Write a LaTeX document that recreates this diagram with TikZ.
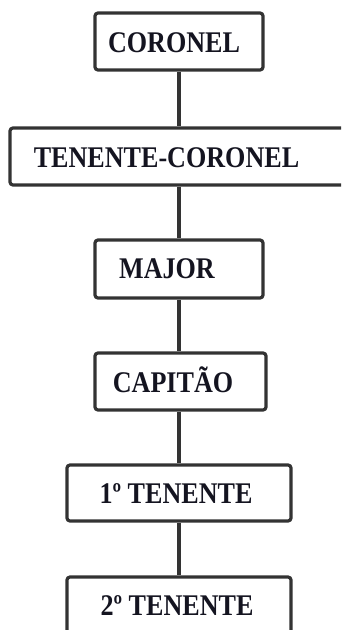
\documentclass[tikz,border=0pt]{standalone}
\usepackage{fontspec}
\setmainfont{Liberation Serif}
\definecolor{edge}{HTML}{333333}
\definecolor{ink}{HTML}{141420}
\begin{document}
\begin{tikzpicture}[x=1pt,y=-1pt,
  rank/.style={draw=edge,line width=3.2pt,rounded corners=3pt,fill=white,inner sep=0pt},
  lbl/.style={anchor=base,inner sep=0pt,text=ink,font=\fontsize{30}{30}\selectfont\bfseries},
  link/.style={draw=edge,line width=3.2pt}]
\useasboundingbox (0,0) rectangle (341,630);
\clip (0,0) rectangle (341,630);
\node[rank,minimum width=168pt,minimum height=57pt] (b1) at (179,41.5) {};
\node[rank,minimum width=340pt,minimum height=57pt] (b2) at (180,156.5) {};
\node[rank,minimum width=168pt,minimum height=58pt] (b3) at (179,269) {};
\node[rank,minimum width=171pt,minimum height=57pt] (b4) at (180.5,381.5) {};
\node[rank,minimum width=224pt,minimum height=56pt] (b5) at (179,493) {};
\node[rank,minimum width=224pt,minimum height=74pt] (b6) at (179,614) {};
\draw[link] (b1.south -| 179,0) -- (b2.north -| 179,0);
\draw[link] (b2.south -| 179,0) -- (b3.north -| 179,0);
\draw[link] (b3.south -| 179,0) -- (b4.north -| 179,0);
\draw[link] (b4.south -| 179,0) -- (b5.north -| 179,0);
\draw[link] (b5.south -| 179,0) -- (b6.north -| 179,0);
\node[lbl] (t1) at (174,52) {\scalebox{0.87}[1]{CORONEL}};
\node[lbl] (t2) at (166.5,167) {\scalebox{0.87}[1]{TENENTE-CORONEL}};
\node[lbl] (t3) at (167,278) {\scalebox{0.87}[1]{MAJOR}};
\node[lbl] (t4) at (173,392) {\scalebox{0.87}[1]{CAPITÃO}};
\node[lbl] (t5) at (176,503) {\scalebox{0.87}[1]{1º TENENTE}};
\node[lbl] (t6) at (177,615) {\scalebox{0.87}[1]{2º TENENTE}};
\end{tikzpicture}
\end{document}
